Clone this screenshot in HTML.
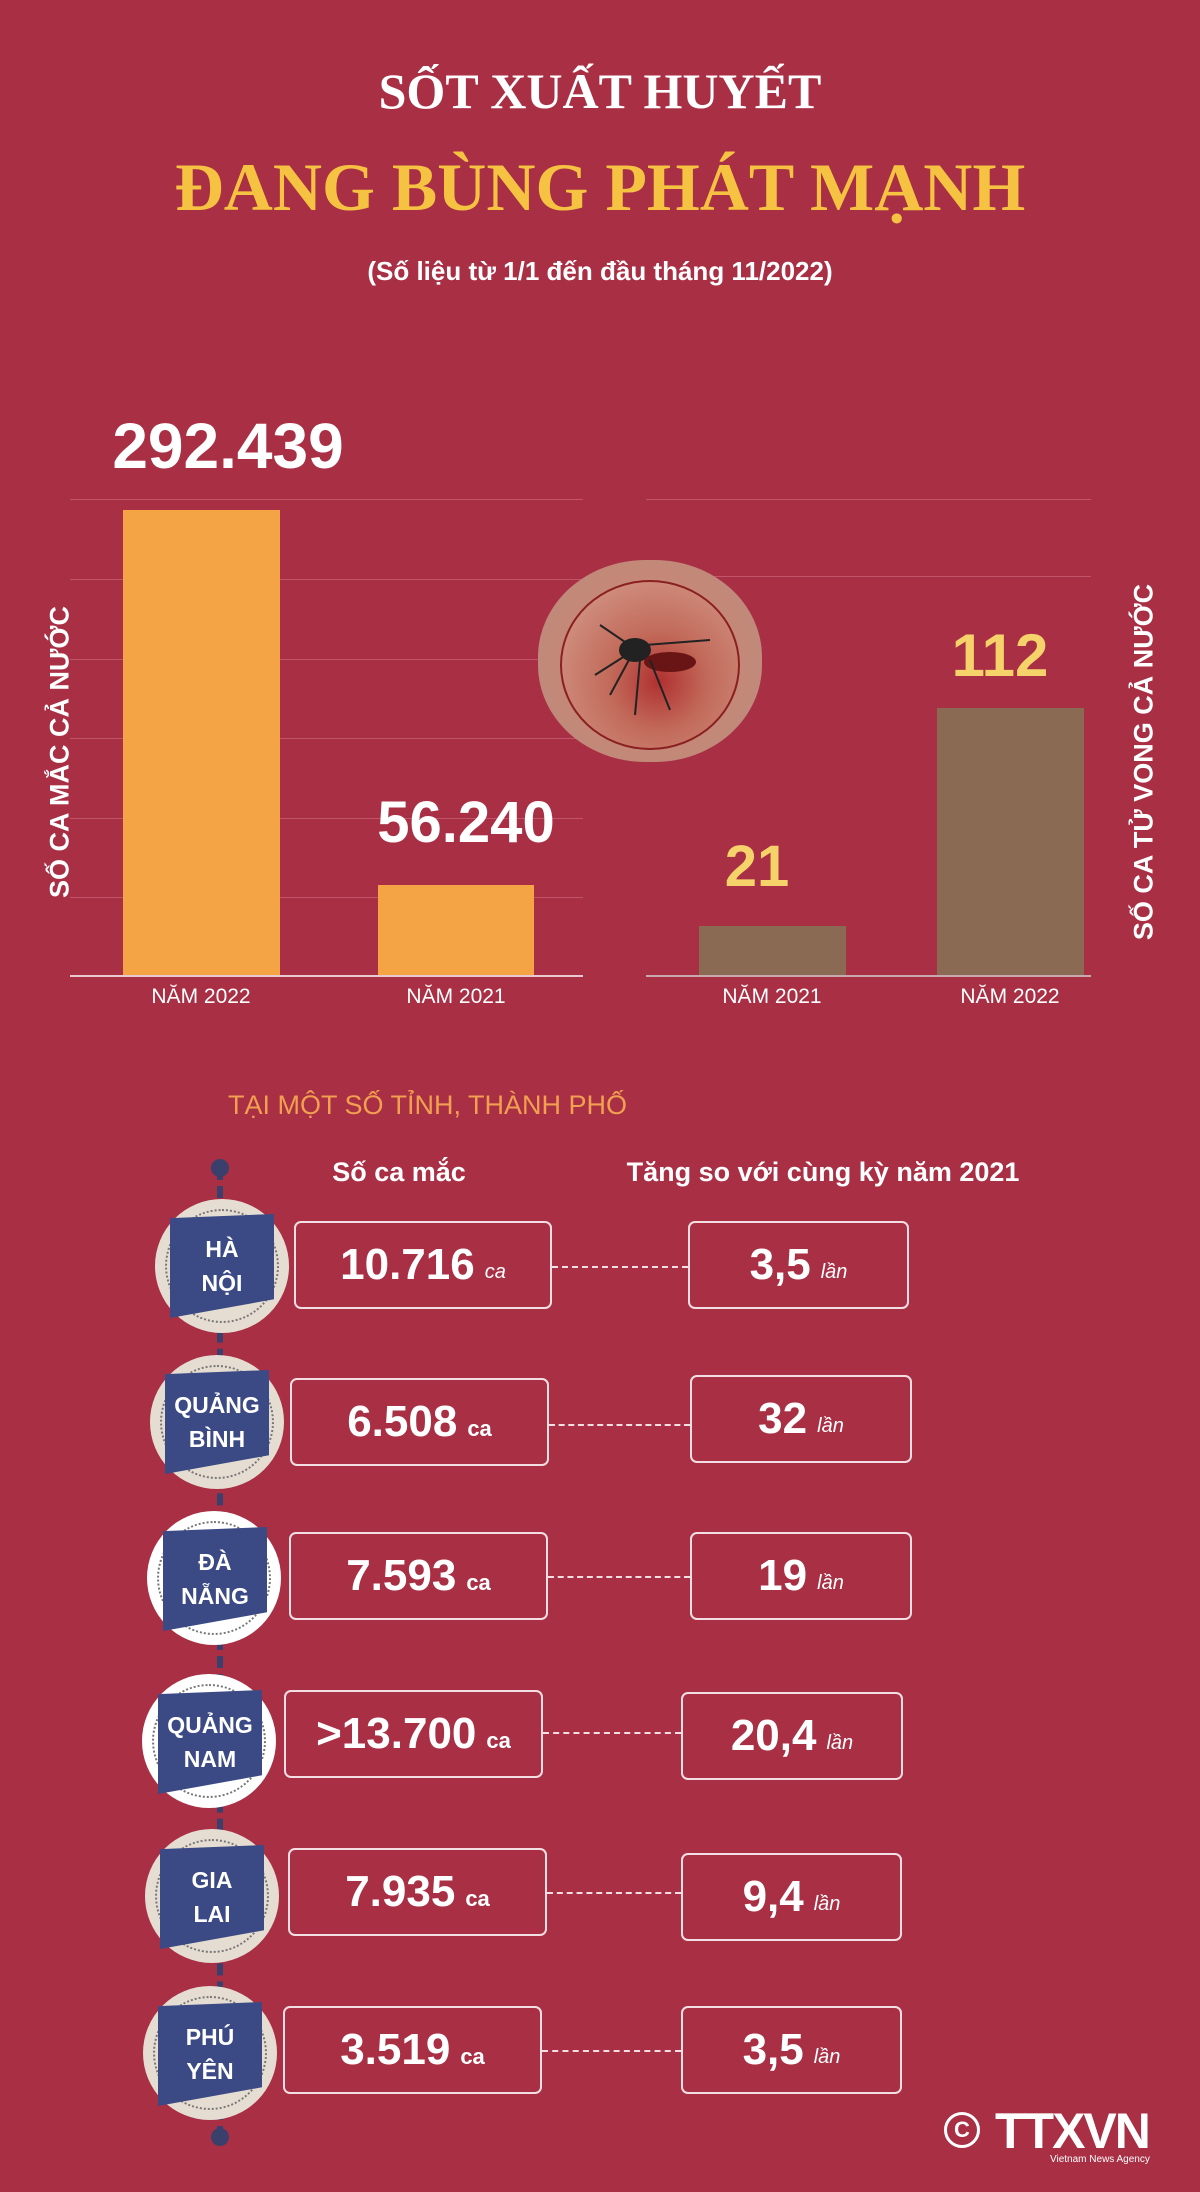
<!DOCTYPE html>
<html><head><meta charset="utf-8"><style>
*{margin:0;padding:0;box-sizing:border-box}
body{width:1200px;height:2192px;background:#a92f45;position:relative;overflow:hidden;font-family:"Liberation Sans",sans-serif;color:#fff}
.a{position:absolute}
.c{text-align:center;white-space:nowrap}
.t1{top:62px;left:0;width:1200px;font:bold 50px "Liberation Serif",serif}
.t2{top:148px;left:0;width:1200px;font:bold 68px "Liberation Serif",serif;color:#f5c242}
.sub{top:256px;left:0;width:1200px;font:bold 26px "Liberation Sans",sans-serif}
.g{height:1px;background:#c0546a}
.lab{font-size:21px;width:200px;margin-left:-100px}
.big{font-weight:bold;line-height:1}
.vt{transform:translate(-50%,-50%) rotate(-90deg);font:bold 27px "Liberation Sans",sans-serif;white-space:nowrap}
.box{border:2px solid #f3dfe3;border-radius:7px;height:88px;display:flex;align-items:center;justify-content:center;font-weight:bold;font-size:44px}
.box small{font-size:22px;margin-left:10px;margin-top:14px}
.box i{font-size:20px;margin-left:10px;margin-top:14px;font-weight:normal}
.dash{border-top:2px dashed #f3dfe3;height:0}
.circ{width:134px;height:134px;border-radius:50%;background:#e6ddd2}
.circ::after{content:"";position:absolute;left:10px;top:10px;right:10px;bottom:10px;border-radius:50%;border:2px dotted #777}
.tag{background:#3b4a85;width:104px;height:104px;color:#fff;font-weight:bold;font-size:23px;line-height:34px;display:flex;flex-direction:column;justify-content:center;align-items:center;clip-path:polygon(0 4%,100% 0,100% 82%,0 100%);z-index:2}
</style></head><body>
<div class="a c t1">SỐT XUẤT HUYẾT</div>
<div class="a c t2">ĐANG BÙNG PHÁT MẠNH</div>
<div class="a c sub">(Số liệu từ 1/1 đến đầu tháng 11/2022)</div>

<!-- left chart -->
<div class="a g" style="left:70px;top:499px;width:513px"></div>
<div class="a g" style="left:70px;top:579px;width:513px"></div>
<div class="a g" style="left:70px;top:659px;width:513px"></div>
<div class="a g" style="left:70px;top:738px;width:513px"></div>
<div class="a g" style="left:70px;top:818px;width:513px"></div>
<div class="a g" style="left:70px;top:897px;width:513px"></div>
<div class="a" style="left:123px;top:510px;width:157px;height:466px;background:#f5a445"></div>
<div class="a" style="left:378px;top:885px;width:156px;height:91px;background:#f5a445"></div>
<div class="a" style="left:70px;top:975px;width:513px;height:2px;background:#e8c9cf"></div>
<div class="a c big" style="left:100px;top:414px;width:256px;font-size:64px">292.439</div>
<div class="a c big" style="left:350px;top:794px;width:232px;font-size:58px">56.240</div>
<div class="a c lab" style="left:201px;top:985px">NĂM 2022</div>
<div class="a c lab" style="left:456px;top:985px">NĂM 2021</div>
<div class="a vt" style="left:60px;top:752px">SỐ CA MẮC CẢ NƯỚC</div>

<!-- right chart -->
<div class="a g" style="left:646px;top:499px;width:445px"></div>
<div class="a g" style="left:646px;top:576px;width:445px"></div>
<div class="a" style="left:699px;top:926px;width:147px;height:50px;background:#8a6a52"></div>
<div class="a" style="left:937px;top:708px;width:147px;height:268px;background:#8a6a52"></div>
<div class="a" style="left:646px;top:975px;width:445px;height:2px;background:#c9a9b0"></div>
<div class="a c big" style="left:697px;top:838px;width:120px;font-size:58px;color:#f5d36a">21</div>
<div class="a c big" style="left:930px;top:626px;width:140px;font-size:60px;color:#f5d36a">112</div>
<div class="a c lab" style="left:772px;top:985px">NĂM 2021</div>
<div class="a c lab" style="left:1010px;top:985px">NĂM 2022</div>
<div class="a vt" style="left:1144px;top:762px">SỐ CA TỬ VONG CẢ NƯỚC</div>

<!-- mosquito -->
<div class="a" style="left:538px;top:560px;width:224px;height:202px;border-radius:48%;background:radial-gradient(circle at 50% 50%,#c97a6a 0%,#c78878 50%,#b88a7a 100%)"></div>
<div class="a" style="left:560px;top:580px;width:180px;height:170px;border-radius:50%;border:2px solid #8a2020;background:radial-gradient(circle at 55% 60%,#b03030 0%,#c26a5a 35%,#d09080 80%)"></div>
<svg class="a" style="left:590px;top:620px" width="130" height="110" viewBox="0 0 130 110"><ellipse cx="45" cy="30" rx="16" ry="12" fill="#222"/><ellipse cx="80" cy="42" rx="26" ry="10" fill="#6a1515"/><g stroke="#222" stroke-width="2" fill="none"><path d="M40 38 L20 75"/><path d="M50 40 L45 95"/><path d="M60 40 L80 90"/><path d="M38 34 L5 55"/><path d="M35 22 L10 5"/><path d="M55 25 L120 20"/></g></svg>

<!-- section -->
<div class="a" style="left:228px;top:1090px;font-size:27px;color:#f0a050;white-space:nowrap">TẠI MỘT SỐ TỈNH, THÀNH PHỐ</div>
<div class="a c" style="left:299px;top:1157px;width:200px;font-weight:bold;font-size:27px">Số ca mắc</div>
<div class="a c" style="left:600px;top:1157px;width:446px;font-weight:bold;font-size:27px">Tăng so với cùng kỳ năm 2021</div>

<div class="a" style="left:217px;top:1168px;width:0;height:970px;border-left:6px dashed #3b3f6b"></div>
<div class="a" style="left:211px;top:1159px;width:18px;height:18px;border-radius:50%;background:#3b3f6b"></div>
<div class="a" style="left:211px;top:2128px;width:18px;height:18px;border-radius:50%;background:#3b3f6b"></div>

<!-- rows -->
<div class="a circ" style="left:155px;top:1199px"></div>
<div class="a tag" style="left:170px;top:1214px"><span>HÀ</span><span>NỘI</span></div>
<div class="a box" style="left:294px;top:1221px;width:258px">10.716<i>ca</i></div>
<div class="a dash" style="left:552px;top:1266px;width:136px"></div>
<div class="a box" style="left:688px;top:1221px;width:221px">3,5<i>lần</i></div>

<div class="a circ" style="left:150px;top:1355px"></div>
<div class="a tag" style="left:165px;top:1370px"><span>QUẢNG</span><span>BÌNH</span></div>
<div class="a box" style="left:290px;top:1378px;width:259px">6.508<small>ca</small></div>
<div class="a dash" style="left:549px;top:1424px;width:141px"></div>
<div class="a box" style="left:690px;top:1375px;width:222px">32<i>lần</i></div>

<div class="a circ" style="left:147px;top:1511px;background:#fff"></div>
<div class="a tag" style="left:163px;top:1527px"><span>ĐÀ</span><span>NẴNG</span></div>
<div class="a box" style="left:289px;top:1532px;width:259px">7.593<small>ca</small></div>
<div class="a dash" style="left:548px;top:1576px;width:142px"></div>
<div class="a box" style="left:690px;top:1532px;width:222px">19<i>lần</i></div>

<div class="a circ" style="left:142px;top:1674px;background:#fff"></div>
<div class="a tag" style="left:158px;top:1690px"><span>QUẢNG</span><span>NAM</span></div>
<div class="a box" style="left:284px;top:1690px;width:259px">&gt;13.700<small>ca</small></div>
<div class="a dash" style="left:543px;top:1732px;width:138px"></div>
<div class="a box" style="left:681px;top:1692px;width:222px">20,4<i>lần</i></div>

<div class="a circ" style="left:145px;top:1829px"></div>
<div class="a tag" style="left:160px;top:1845px"><span>GIA</span><span>LAI</span></div>
<div class="a box" style="left:288px;top:1848px;width:259px">7.935<small>ca</small></div>
<div class="a dash" style="left:547px;top:1892px;width:134px"></div>
<div class="a box" style="left:681px;top:1853px;width:221px">9,4<i>lần</i></div>

<div class="a circ" style="left:143px;top:1986px"></div>
<div class="a tag" style="left:158px;top:2002px"><span>PHÚ</span><span>YÊN</span></div>
<div class="a box" style="left:283px;top:2006px;width:259px">3.519<small>ca</small></div>
<div class="a dash" style="left:542px;top:2050px;width:139px"></div>
<div class="a box" style="left:681px;top:2006px;width:221px">3,5<i>lần</i></div>

<!-- logo -->
<div class="a" style="left:944px;top:2112px;width:36px;height:36px;border:3px solid #fff;border-radius:50%;font-size:22px;font-weight:bold;text-align:center;line-height:30px">C</div>
<div class="a" style="left:995px;top:2102px;font:900 50px 'Liberation Sans',sans-serif;letter-spacing:-2px">TTXVN</div>
<div class="a" style="left:1050px;top:2154px;font-size:10px">Vietnam News Agency</div>
</body></html>
